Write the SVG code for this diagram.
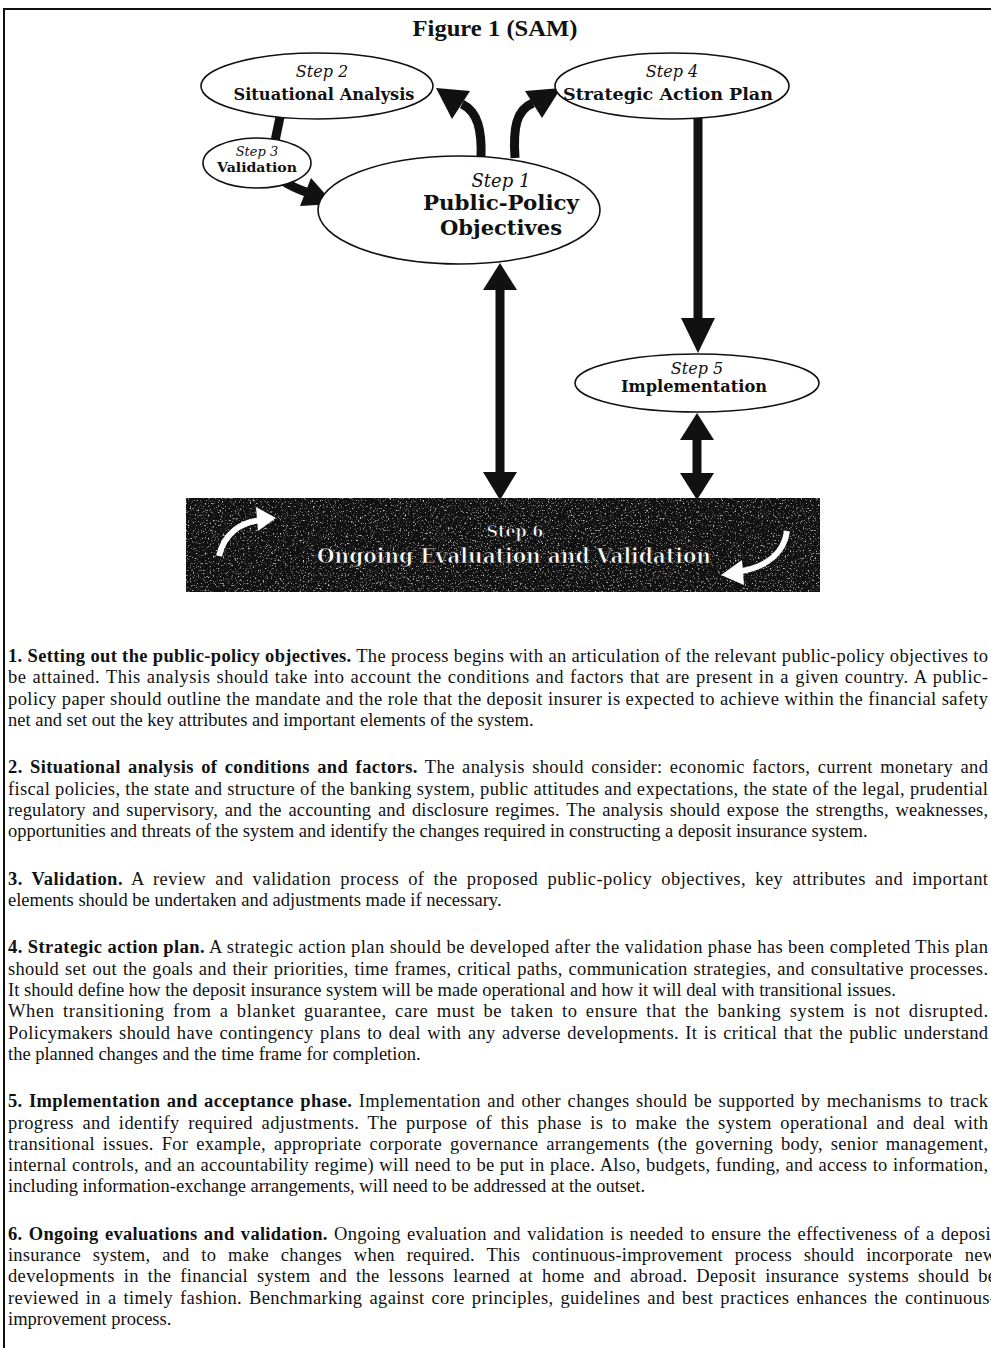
<svg xmlns="http://www.w3.org/2000/svg" width="991" height="1348" viewBox="0 0 991 1348">
  <style>
    .frame { stroke: #111; stroke-width: 2; fill: none; }
    .title { font-family: "Liberation Serif", serif; font-weight: bold; font-size: 24px; fill: #111; }
    .node ellipse { fill: #fff; stroke: #111; stroke-width: 1.6; }
    .step { font-family: "DejaVu Serif", serif; font-style: italic; fill: #111; text-anchor: middle; }
    .lbl { font-family: "DejaVu Serif", serif; font-weight: bold; fill: #111; text-anchor: middle; }
    .wire { stroke: #111; stroke-width: 9; fill: none; stroke-linecap: butt; }
    .head { fill: #111; }
    .ban-t { font-family: "DejaVu Serif", serif; font-weight: bold; fill: #fff; stroke: #000; stroke-width: 0.7; text-anchor: middle; }
    .p { font-family: "Liberation Serif", serif; font-size: 18.5px; fill: #111; }
    .b { font-weight: bold; }
  </style>
  <defs>
    <filter id="grain" x="0" y="0" width="1" height="1">
      <feTurbulence type="fractalNoise" baseFrequency="0.6" numOctaves="2" seed="7" result="n"/>
      <feColorMatrix in="n" type="matrix" values="0 0 0 0 0.6  0 0 0 0 0.6  0 0 0 0 0.6  4.5 0 0 0 -2.6"/>
    </filter>
  </defs>

  <rect width="991" height="1348" fill="#fff"/>
  <!-- page frame -->
  <path class="frame" d="M4,1348 V9 H991"/>

  <text class="title" x="495" y="36" text-anchor="middle" textLength="165" lengthAdjust="spacingAndGlyphs">Figure 1 (SAM)</text>

  <!-- connectors -->
  <g id="connectors">
    <!-- step 2 to step 3 -->
    <path class="wire" d="M280,117 L275,141" stroke-width="8"/>
    <!-- step 3 to step 1 -->
    <path class="wire" d="M283,181 Q292,187 306,192"/>
    <polygon class="head" points="334,204 300,206 311,178"/>
    <!-- step 1 to step 2 -->
    <path class="wire" d="M481,158 C482,130 478,112 462,104"/>
    <polygon class="head" points="436,88 470,91 452,119"/>
    <!-- step 1 to step 4 -->
    <path class="wire" d="M515,158 C513,128 516,110 533,103"/>
    <polygon class="head" points="561,88 525,91 542,118"/>
    <!-- step 4 to step 5 -->
    <path class="wire" d="M698,118 V322"/>
    <polygon class="head" points="698,353 681,318 715,318"/>
    <!-- step 1 to step 6, both ways -->
    <path class="wire" d="M500,286 V476"/>
    <polygon class="head" points="500,263 483,290 517,290"/>
    <polygon class="head" points="500,500 483,472 517,472"/>
    <!-- step 5 to step 6, both ways -->
    <path class="wire" d="M697,436 V476"/>
    <polygon class="head" points="697,413 680,440 714,440"/>
    <polygon class="head" points="697,500 680,473 714,473"/>
  </g>

  <g id="step2" class="node">
    <ellipse cx="317" cy="86" rx="116" ry="33"/>
    <text class="step" x="322" y="77" font-size="16">Step 2</text>
    <text class="lbl" x="324" y="99.5" font-size="16" textLength="181" lengthAdjust="spacingAndGlyphs">Situational Analysis</text>
  </g>

  <g id="step4" class="node">
    <ellipse cx="672" cy="86" rx="117" ry="33"/>
    <text class="step" x="672" y="77" font-size="16">Step 4</text>
    <text class="lbl" x="668" y="99.5" font-size="16" textLength="210" lengthAdjust="spacingAndGlyphs">Strategic Action Plan</text>
  </g>

  <g id="step3" class="node">
    <ellipse cx="257" cy="163" rx="54" ry="25"/>
    <text class="step" x="257" y="156" font-size="13">Step 3</text>
    <text class="lbl" x="257" y="172" font-size="13.5" textLength="80" lengthAdjust="spacingAndGlyphs">Validation</text>
  </g>

  <g id="step1" class="node">
    <ellipse cx="459" cy="210" rx="141" ry="54"/>
    <text class="step" x="501" y="187" font-size="18">Step 1</text>
    <text class="lbl" x="501" y="210" font-size="20" textLength="156" lengthAdjust="spacingAndGlyphs">Public-Policy</text>
    <text class="lbl" x="501" y="235" font-size="20" textLength="122" lengthAdjust="spacingAndGlyphs">Objectives</text>
  </g>

  <g id="step5" class="node">
    <ellipse cx="697" cy="383" rx="122" ry="29"/>
    <text class="step" x="697" y="374" font-size="16">Step 5</text>
    <text class="lbl" x="694" y="392" font-size="16" textLength="146" lengthAdjust="spacingAndGlyphs">Implementation</text>
  </g>

  <!-- step 6: dark textured banner -->
  <g id="step6">
    <rect x="186" y="498" width="634" height="94" fill="#111"/>
    <rect x="186" y="498" width="634" height="94" filter="url(#grain)"/>
    <!-- curved arrows -->
    <path d="M219,556 C224,534 240,522 262,520" stroke="#fff" stroke-width="6" fill="none"/>
    <polygon points="276,518 256,507 258,531" fill="#fff"/>
    <path d="M787,531 C784,552 768,566 742,571" stroke="#fff" stroke-width="6" fill="none"/>
    <polygon points="721,575 742,560 744,585" fill="#fff"/>
    <text class="ban-t" x="515" y="537" font-size="16">Step 6</text>
    <text class="ban-t" x="514" y="563" font-size="20" textLength="394" lengthAdjust="spacingAndGlyphs">Ongoing Evaluation and Validation</text>
  </g>

  <!-- explanatory notes -->
  <g id="notes" class="p">
    <text x="8" y="662" textLength="980" lengthAdjust="spacing"><tspan class="b">1. Setting out the public-policy objectives.</tspan> The process begins with an articulation of the relevant public-policy objectives to</text>
    <text x="8" y="683.3" textLength="980" lengthAdjust="spacing" word-spacing="1">be attained. This analysis should take into account the conditions and factors that are present in a given country. A public-</text>
    <text x="8" y="704.6" textLength="980" lengthAdjust="spacing">policy paper should outline the mandate and the role that the deposit insurer is expected to achieve within the financial safety</text>
    <text x="8" y="725.9">net and set out the key attributes and important elements of the system.</text>

    <text x="8" y="773.3" textLength="980" lengthAdjust="spacing" word-spacing="2.3"><tspan class="b">2. Situational analysis of conditions and factors.</tspan> The analysis should consider: economic factors, current monetary and</text>
    <text x="8" y="794.6" textLength="980" lengthAdjust="spacing">fiscal policies, the state and structure of the banking system, public attitudes and expectations, the state of the legal, prudential</text>
    <text x="8" y="815.9" textLength="980" lengthAdjust="spacing" word-spacing="2">regulatory and supervisory, and the accounting and disclosure regimes. The analysis should expose the strengths, weaknesses,</text>
    <text x="8" y="837.2">opportunities and threats of the system and identify the changes required in constructing a deposit insurance system.</text>

    <text x="8" y="884.6" textLength="980" lengthAdjust="spacing" word-spacing="4"><tspan class="b">3. Validation.</tspan> A review and validation process of the proposed public-policy objectives, key attributes and important</text>
    <text x="8" y="905.9">elements should be undertaken and adjustments made if necessary.</text>

    <text x="8" y="953.3" textLength="980" lengthAdjust="spacing"><tspan class="b">4. Strategic action plan.</tspan>  A strategic action plan should be developed after the validation phase has been completed This plan</text>
    <text x="8" y="974.6" textLength="980" lengthAdjust="spacing" word-spacing="1">should set out the goals and their priorities, time frames, critical paths, communication strategies, and consultative processes.</text>
    <text x="8" y="995.9">It should define how the deposit insurance system will be made operational and how it will deal with transitional issues.</text>
    <text x="8" y="1017.2" textLength="980" lengthAdjust="spacing" word-spacing="3">When transitioning from a blanket guarantee, care must be taken to ensure that the banking system is not disrupted.</text>
    <text x="8" y="1038.5" textLength="980" lengthAdjust="spacing" word-spacing="1.5">Policymakers should have contingency plans to deal with any adverse developments. It is critical that the public understand</text>
    <text x="8" y="1059.8">the planned changes and the time frame for completion.</text>

    <text x="8" y="1107.2" textLength="980" lengthAdjust="spacing" word-spacing="1.5"><tspan class="b">5. Implementation and acceptance phase.</tspan> Implementation and other changes should be supported by  mechanisms to track</text>
    <text x="8" y="1128.5" textLength="980" lengthAdjust="spacing" word-spacing="3.5">progress and identify required adjustments. The purpose of this phase is to make the system operational and deal with</text>
    <text x="8" y="1149.8" textLength="980" lengthAdjust="spacing" word-spacing="3">transitional issues. For example, appropriate corporate governance arrangements (the governing body, senior management,</text>
    <text x="8" y="1171.1" textLength="980" lengthAdjust="spacing" word-spacing="0.5">internal controls, and an accountability regime) will need to be put in place. Also, budgets, funding, and access to information,</text>
    <text x="8" y="1192.4">including information-exchange arrangements, will need to be addressed at the outset.</text>

    <text x="8" y="1239.8" textLength="988" lengthAdjust="spacing" word-spacing="1.5"><tspan class="b">6. Ongoing evaluations and validation.</tspan> Ongoing evaluation and validation is needed to ensure the effectiveness of a deposit</text>
    <text x="8" y="1261.1" textLength="988" lengthAdjust="spacing" word-spacing="7">insurance system, and to make changes when required. This continuous-improvement process should incorporate new</text>
    <text x="8" y="1282.4" textLength="988" lengthAdjust="spacing" word-spacing="4">developments in the financial system and the lessons learned at home and abroad. Deposit insurance systems should be</text>
    <text x="8" y="1303.7" textLength="988" lengthAdjust="spacing" word-spacing="2">reviewed in a timely fashion. Benchmarking against core principles, guidelines and best practices enhances the continuous-</text>
    <text x="8" y="1325">improvement process.</text>
  </g>
</svg>
